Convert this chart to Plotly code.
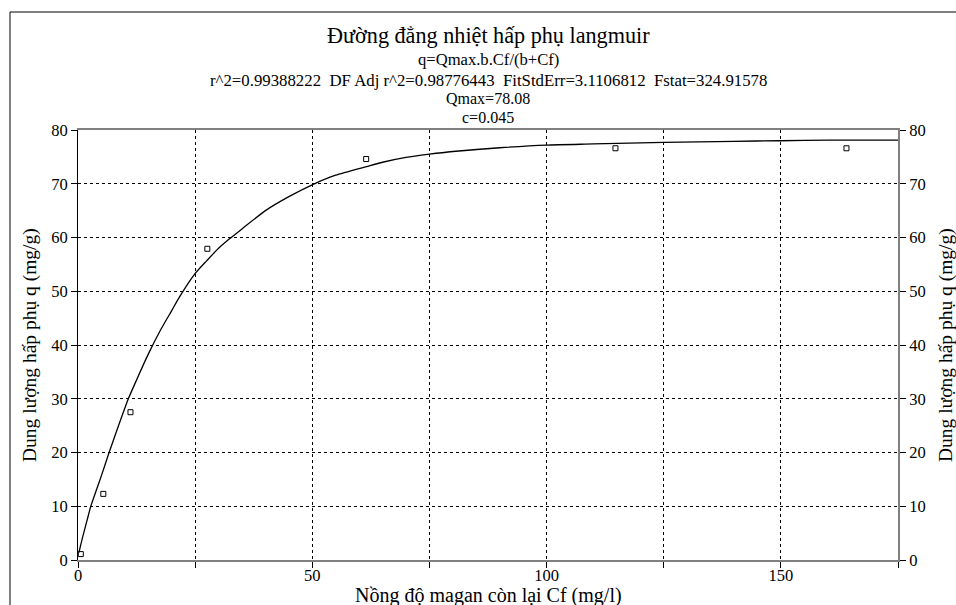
import plotly.graph_objects as go

# measured points
cf_obs = [0.6, 5.4, 11.2, 27.6, 61.5, 114.7, 164.0]
q_obs = [1.1, 12.3, 27.5, 57.9, 74.6, 76.6, 76.6]

# fitted curve
cf_fit = [0.2, 1, 2, 2.7, 4, 5, 6.6, 8, 10.7, 12.5, 15, 17.5, 20, 21.7, 24.9, 27.5, 30,
          32.4, 35, 40, 45, 50.2, 55, 61.6, 65, 70, 75, 80, 90, 100, 110, 125, 140, 150,
          160, 175]
q_fit = [1.4, 4.3, 7.6, 9.9, 13.2, 15.7, 19.9, 23.4, 29.9, 33.5, 38.3, 42.6, 46.4, 49.0,
         53.2, 55.7, 58.0, 59.8, 61.6, 65.0, 67.6, 69.9, 71.6, 73.2, 74.0, 74.9, 75.5, 76.0,
         76.7, 77.2, 77.4, 77.7, 77.9, 78.0, 78.1, 78.1]

x_ticks = [0, 25, 50, 75, 100, 125, 150, 175]
x_ticktext = ["0", "", "50", "", "100", "", "150", ""]
y_ticks = [0, 10, 20, 30, 40, 50, 60, 70, 80]

SP = "\u00a0 "
title_lines = [
    ("Đường đẳng nhiệt hấp phụ langmuir", 22.2),
    ("q=Qmax.b.Cf/(b+Cf)", 16.6),
    ("r^2=0.99388222" + SP + "DF Adj r^2=0.98776443" + SP + "FitStdErr=3.1106812" + SP
     + "Fstat=324.91578", 16.8),
    ("Qmax=78.08", 16),
    ("c=0.045", 16),
]
title_y = [35, 60, 80, 98, 117]  # pixel centres

FONT = "Liberation Serif"
W, H = 956, 605
L, T = 78, 130
R, B = W - 898, H - 560
pw, ph = W - L - R, H - T - B

def py(p):  # pixel y -> paper y
    return (H - B - p) / ph

def px(p):
    return (p - L) / pw

fig = go.Figure()
fig.add_trace(go.Scatter(x=cf_fit, y=q_fit, mode="lines", line_shape="spline",
                         line=dict(color="black", width=1.3, smoothing=0.6), showlegend=False))
fig.add_trace(go.Scatter(x=cf_obs, y=q_obs, mode="markers",
                         marker=dict(symbol="square-open", size=5, color="black",
                                     line=dict(width=1)), showlegend=False))
# invisible trace so the right axis is drawn
fig.add_trace(go.Scatter(x=[0], y=[0], yaxis="y2", mode="markers",
                         marker=dict(opacity=0), showlegend=False, hoverinfo="skip"))

for (txt, sz), yy in zip(title_lines, title_y):
    fig.add_annotation(text=txt, x=0.5, y=py(yy), xref="paper", yref="paper",
                       showarrow=False, font=dict(size=sz, color="black", family=FONT),
                       xanchor="center", yanchor="middle")

ylab = "Dung lượng hấp phụ q (mg/g)"
for xx in (30, 946):
    fig.add_annotation(text=ylab, textangle=-90, x=px(xx), y=0.5,
                       xref="paper", yref="paper", showarrow=False,
                       xanchor="center", yanchor="middle",
                       font=dict(size=19.5, color="black", family=FONT))
fig.add_annotation(text="Nồng độ magan còn lại Cf (mg/l)",
                   x=0.5, y=py(595), xref="paper", yref="paper", showarrow=False,
                   xanchor="center", yanchor="middle",
                   font=dict(size=20, color="black", family=FONT))

# outer frame (left and top edges only are in view)
fig.add_shape(type="line", xref="paper", yref="paper",
              x0=px(10), x1=px(10), y0=py(640), y1=py(12),
              line=dict(color="black", width=1))
fig.add_shape(type="line", xref="paper", yref="paper",
              x0=px(10), x1=px(960), y0=py(12), y1=py(12),
              line=dict(color="black", width=1))

axis_common = dict(showline=True, ticks="outside", ticklen=6, tickwidth=1,
                   tickcolor="black", tickfont=dict(size=16.5, color="black", family=FONT),
                   zeroline=False)

fig.update_layout(
    width=W, height=H,
    margin=dict(l=L, r=R, t=T, b=B),
    paper_bgcolor="white", plot_bgcolor="white",
    font=dict(family=FONT, color="black"),
    xaxis=dict(range=[0, 175], tickvals=x_ticks, ticktext=x_ticktext,
               showgrid=True, gridcolor="black", griddash="dot", gridwidth=1,
               linecolor="#808080", linewidth=2, mirror=True,
               ticklabelstandoff=-7, **axis_common),
    yaxis=dict(range=[0, 80], tickvals=y_ticks,
               showgrid=True, gridcolor="black", griddash="dot", gridwidth=1,
               linecolor="black", linewidth=1, **axis_common),
    yaxis2=dict(range=[0, 80], tickvals=y_ticks, overlaying="y", side="right",
                showgrid=False, linecolor="#808080", linewidth=2, **axis_common),
)

# drop the default page margin so the figure fills the window exactly
fig.write_html("out.html", config={"displayModeBar": False},
               post_script="document.body.style.margin='0';document.body.style.overflow='hidden';")
